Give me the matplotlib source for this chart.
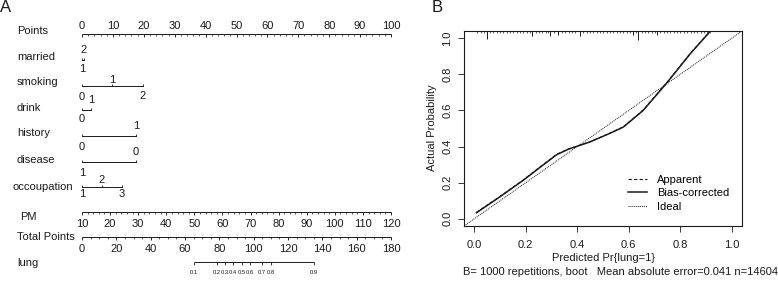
import matplotlib
matplotlib.use("Agg")
import matplotlib.pyplot as plt
from matplotlib.lines import Line2D

plt.rcParams["font.family"] = ["Liberation Sans", "DejaVu Sans"]

INK = "#1a1a1a"
FS = 8.0

# ---- panel A: nomogram data (points per level) ----
married_lv = ["1", "2"]
married_pt = [0, 0.6]
smoking_lv = ["0", "1", "2"]
smoking_pt = [0, 9.8, 19.6]
drink_lv = ["0", "1"]
drink_pt = [0, 2.9]
history_lv = ["0", "1"]
history_pt = [0, 17.5]
disease_lv = ["1", "0"]
disease_pt = [0, 17.5]
occup_lv = ["1", "2", "3"]
occup_pt = [0, 6.4, 12.9]

points_ticks = list(range(0, 101, 10))
pm_ticks = [10, 20, 30, 40, 50, 60, 70, 80, 90, 100, 110, 120]
total_ticks = [0, 20, 40, 60, 80, 100, 120, 140, 160, 180]
lung_prob = ["0.1", "0.2", "0.3", "0.4", "0.5", "0.6", "0.7", "0.8", "0.9"]
lung_total = [65.2, 78.6, 83.3, 88.0, 93.2, 97.9, 104.8, 110.0, 135.0]

# ---- panel B: calibration data ----
bias_x = [0.008, 0.10, 0.192, 0.26, 0.32, 0.365, 0.392, 0.45, 0.528, 0.579, 0.656, 0.75, 0.839, 0.93]
bias_y = [0.033, 0.122, 0.215, 0.29, 0.355, 0.385, 0.398, 0.426, 0.474, 0.508, 0.600, 0.756, 0.914, 1.06]
appar_x = [0.008, 0.10, 0.192, 0.26, 0.32, 0.365, 0.392, 0.45, 0.528, 0.579, 0.656, 0.75, 0.839, 0.93]
appar_y = [0.035, 0.124, 0.217, 0.292, 0.357, 0.386, 0.399, 0.427, 0.475, 0.509, 0.602, 0.758, 0.916, 1.06]
rug_x = [0.012, 0.025, 0.037, 0.062, 0.074, 0.088, 0.100, 0.113, 0.126, 0.139, 0.151,
         0.164, 0.177, 0.190, 0.203, 0.215, 0.238, 0.251, 0.264, 0.277, 0.285, 0.309,
         0.340, 0.353, 0.366, 0.379, 0.392, 0.423, 0.436, 0.449, 0.462, 0.475, 0.488,
         0.501, 0.514, 0.527, 0.540, 0.553, 0.566, 0.579, 0.592, 0.605, 0.630, 0.650,
         0.663, 0.676, 0.689, 0.702, 0.723, 0.736, 0.749, 0.762, 0.775, 0.788, 0.801,
         0.814, 0.827, 0.840, 0.853, 0.866, 0.879, 0.892, 0.905, 0.917]
rug_long_x = [0.050, 0.225, 0.295, 0.326, 0.410, 0.617, 0.637, 0.710]
rug_long_px = [8, 5, 5, 4, 5, 4, 9, 4]

W, H = 778, 282
fig = plt.figure(figsize=(W / 100, H / 100), dpi=100)

# ---------------- panel A ----------------
X0, SC = 82, 3.09  # pixel of 0 points, pixels per point


def px2pt(px):
    return (px - X0) / SC


axa = fig.add_axes([0, 0, 430 / W, 1])
axa.set_xlim(px2pt(0), px2pt(430))
axa.set_ylim(H, 0)
axa.axis("off")

rows = [("Points", 17, 31), ("married", 17, 57), ("smoking", 17, 82), ("drink", 17, 108),
        ("history", 17, 133), ("disease", 17, 160), ("occoupation", 12.5, 187),
        ("PM", 20.5, 217), ("Total Points", 17, 237), ("lung", 17, 263)]
for name, px, py in rows:
    axa.text(px2pt(px), py, name, fontsize=FS, ha="left", va="center", color=INK)


def scale_axis(y, vals, pos, lab_dy, minor=None, fs=FS, major_len=2.5):
    axa.plot([pos[0], pos[-1]], [y, y], color=INK, lw=0.7, solid_capstyle="butt")
    if minor is not None:
        axa.vlines(minor, y, y + 1.6, color=INK, lw=0.5)
    axa.vlines(pos, y, y + major_len, color=INK, lw=0.6)
    for v, p in zip(vals, pos):
        axa.text(p, y + lab_dy, v, fontsize=fs, ha="center", va="center", color=INK)


# Points axis
pts_minor = [m for m in range(0, 101, 2)]
scale_axis(34, [str(t) for t in points_ticks], points_ticks, -8, minor=pts_minor)


def factor_row(y, levels, pts, offs):
    axa.plot([pts[0], pts[-1]], [y, y], color=INK, lw=0.7)
    axa.vlines(pts, y - 2.5, y, color=INK, lw=0.6)
    for lv, p, d in zip(levels, pts, offs):
        axa.text(p, y + d, lv, fontsize=FS, ha="center", va="center", color=INK)


factor_row(60, married_lv, married_pt, [9, -10])
factor_row(86, smoking_lv, smoking_pt, [11, -6, 10])
factor_row(110, drink_lv, drink_pt, [9, -10])
factor_row(136, history_lv, history_pt, [11, -10])
factor_row(162, disease_lv, disease_pt, [11, -10])
factor_row(187, occup_lv, occup_pt, [7, -7, 7])

# PM axis
pm_pos = [(v - 10) / 110 * 100 for v in pm_ticks]
pm_minor = [(v - 10) / 110 * 100 for v in range(10, 121, 2)]
scale_axis(212, [str(v) for v in pm_ticks], pm_pos, 12, minor=pm_minor)

# Total points axis
tot_pos = [v / 180 * 100 for v in total_ticks]
tot_minor = [v / 180 * 100 for v in range(0, 181, 5)]
scale_axis(237, [str(v) for v in total_ticks], tot_pos, 12, minor=tot_minor)

# lung probability axis
lung_pos = [v / 180 * 100 for v in lung_total]
scale_axis(262, lung_prob, lung_pos, 10, fs=4.2, major_len=2.5)

fig.text(6 / W, 1 - 8 / H, "A", fontsize=12, ha="center", va="center", color=INK)
fig.text(437 / W, 1 - 8 / H, "B", fontsize=12, ha="center", va="center", color=INK)

# ---------------- panel B ----------------
L, R, T, B = 464, 742, 31, 226
axb = fig.add_axes([L / W, 1 - B / H, (R - L) / W, (B - T) / H])
axb.set_xlim(-0.04, 1.04)
axb.set_ylim(-0.04, 1.04)
for s in axb.spines.values():
    s.set_linewidth(0.8)
    s.set_color(INK)

ypx = (B - T) / 1.08  # pixels per y unit
axb.plot([-0.04, 1.04], [-0.04, 1.04], color=INK, lw=0.7, ls=(0, (1, 1)))
axb.plot(appar_x, appar_y, color=INK, lw=0.8, ls=(0, (3, 2)))
axb.plot(bias_x, bias_y, color=INK, lw=1.1)
axb.vlines(rug_x, 1.04 - 2 / ypx, 1.04, color=INK, lw=0.5)
axb.vlines(rug_long_x, [1.04 - h / ypx for h in rug_long_px], 1.04, color=INK, lw=0.7)

ticks = [0.0, 0.2, 0.4, 0.6, 0.8, 1.0]
axb.set_xticks(ticks, [f"{t:.1f}" for t in ticks])
axb.set_yticks(ticks, [f"{t:.1f}" for t in ticks], rotation=90, va="center")
axb.tick_params(direction="out", length=4, width=0.6, labelsize=FS, colors=INK)
axb.tick_params(axis="x", pad=6)
axb.tick_params(axis="y", pad=4.5)

handles = [Line2D([], [], color=INK, lw=0.8, ls=(0, (3, 2))),
           Line2D([], [], color=INK, lw=1.1),
           Line2D([], [], color=INK, lw=0.7, ls=(0, (1, 1)))]
axb.legend(handles, ["Apparent", "Bias-corrected", "Ideal"], loc="upper left",
           bbox_to_anchor=(0.57, 0.29), frameon=False, fontsize=FS, handlelength=1.7,
           handletextpad=0.9, labelspacing=0.3, borderpad=0)

fig.text((L + R) / 2 / W, 1 - 258 / H, "Predicted Pr{lung=1}", fontsize=FS,
         ha="center", va="center", color=INK)
fig.text(432 / W, 1 - 128 / H, "Actual Probability", fontsize=FS, rotation=90,
         ha="center", va="center", color=INK)
fig.text(463 / W, 1 - 272 / H,
         "B= 1000 repetitions, boot   Mean absolute error=0.041 n=14604",
         fontsize=FS, ha="left", va="center", color=INK)

fig.savefig("out.png", dpi=100)
